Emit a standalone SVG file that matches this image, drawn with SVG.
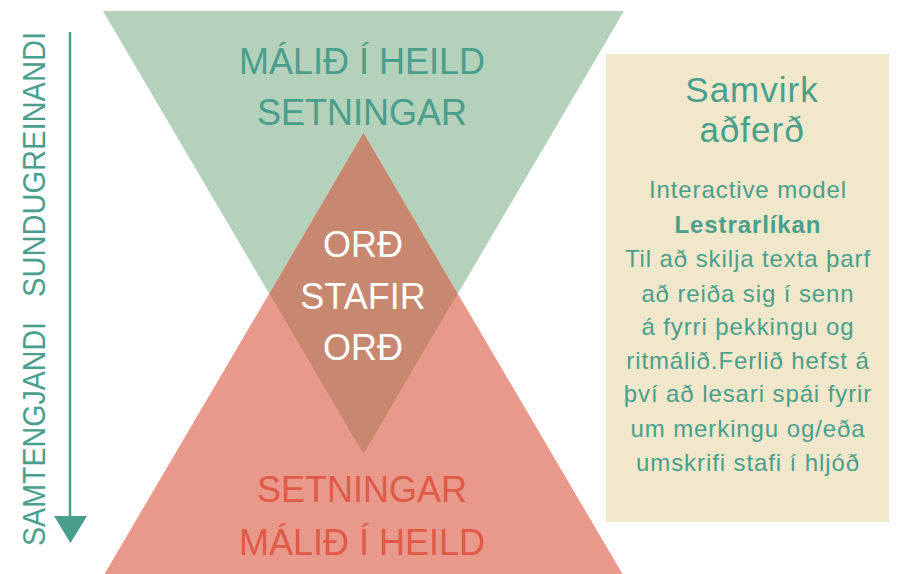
<svg xmlns="http://www.w3.org/2000/svg" width="897" height="574" viewBox="0 0 897 574">
<defs>
<style>
text{font-family:"Liberation Sans",Arial,sans-serif;text-anchor:middle}
.big{font-size:36px}
.g{fill:#4a9e8c}
.r{fill:#e05a47}
.w{fill:#ffffff}
.head{font-size:35px;letter-spacing:1px}
.body{font-size:24px;fill:#4a9e8c;letter-spacing:0.9px}
</style>
</defs>
<rect width="897" height="574" fill="#ffffff"/>
<g id="top-triangle">
<polygon points="103,11 624,11 363.5,454" fill="#b3d1bb"/>
<text class="big g" x="362" y="74">MÁLIÐ Í HEILD</text>
<text class="big g" x="362" y="125">SETNINGAR</text>
</g>
<g id="bottom-triangle">
<polygon points="104.5,574 622.5,574 363.5,133" fill="#e8998b"/>
<text class="big r" x="362" y="502">SETNINGAR</text>
<text class="big r" x="362" y="555">MÁLIÐ Í HEILD</text>
</g>
<g id="overlap">
<polygon points="363.5,133 457.3,293.7 363.5,454 269.7,293.7" fill="#c8876f"/>
<text class="big w" x="363" y="257">ORĐ</text>
<text class="big w" x="363" y="309">STAFIR</text>
<text class="big w" x="363" y="360">ORĐ</text>
</g>
<g id="axis">
<text class="g" font-size="32" transform="translate(45,546) rotate(-90)" x="0" y="0" style="text-anchor:start" textLength="224" lengthAdjust="spacingAndGlyphs">SAMTENGJANDI</text>
<text class="g" font-size="32" transform="translate(45,297) rotate(-90)" x="0" y="0" style="text-anchor:start" textLength="265" lengthAdjust="spacingAndGlyphs">SUNDUGREINANDI</text>
</g>
<g id="connectors">
<line x1="70" y1="32" x2="70" y2="518" stroke="#4a9e8c" stroke-width="2.5"/>
<polygon points="54,516 87,516 70.5,543" fill="#4a9e8c"/>
</g>
<g id="info-box">
<rect x="606" y="54" width="283" height="468" fill="#f1e7cb"/>
<text class="g head" x="752" y="102">Samvirk</text>
<text class="g head" x="752" y="142">aðferð</text>
<text class="body" x="748" y="198">Interactive model</text>
<text class="body" x="748" y="233" font-weight="bold">Lestrarlíkan</text>
<text class="body" x="748" y="267">Til að skilja texta þarf</text>
<text class="body" x="748" y="302">að reiða sig í senn</text>
<text class="body" x="748" y="335">á fyrri þekkingu og</text>
<text class="body" x="748" y="369">ritmálið.Ferlið hefst á</text>
<text class="body" x="748" y="402">því að lesari spái fyrir</text>
<text class="body" x="748" y="437">um merkingu og/eða</text>
<text class="body" x="748" y="471">umskrifi stafi í hljóð</text>
</g>
</svg>
